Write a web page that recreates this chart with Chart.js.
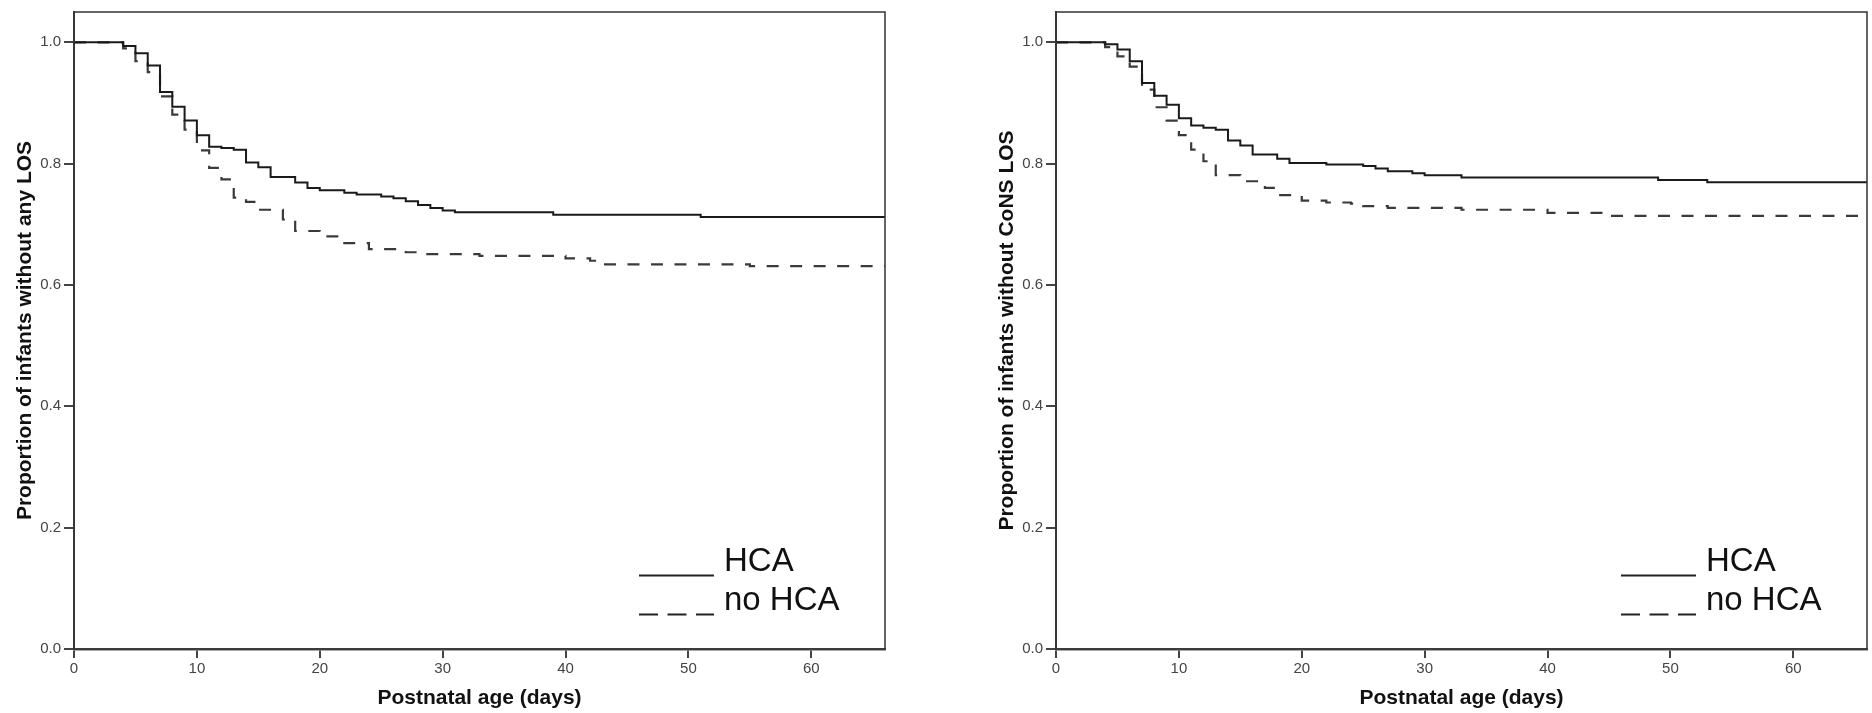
<!DOCTYPE html>
<html lang="en">
  <head>
    <meta charset="UTF-8" />
    <title>Time to late-onset sepsis by HCA</title>
    <script src="https://cdn.jsdelivr.net/npm/chart.js@4.4.1/dist/chart.umd.min.js"></script>
    <style>
      html, body { margin: 0; padding: 0; background: #fff; }
      .panel { position: absolute; top: 0; }
      #leftPanel { left: 0; }
      #rightPanel { left: 982px; }
    </style>
  </head>
  <body>
    <canvas id="leftPanel" class="panel" width="890" height="713"></canvas>
    <canvas id="rightPanel" class="panel" width="890" height="713"></canvas>

    <script>
      // Kaplan-Meier estimates read off the SPSS output (day, proportion)
      // any LOS, HCA
      var daysAnyHca = [0, 4, 5, 6, 7, 8, 9, 10, 11, 12, 13, 14, 15, 16, 18, 19, 20, 22, 23, 25, 26, 27, 28, 29, 30, 31, 39, 51, 66];
      var survAnyHca = [1.0, 0.994, 0.982, 0.962, 0.918, 0.894, 0.871, 0.847, 0.828, 0.826, 0.823, 0.802, 0.794, 0.778, 0.769, 0.760, 0.756, 0.752, 0.749, 0.746, 0.743, 0.738, 0.732, 0.727, 0.723, 0.720, 0.716, 0.712, 0.712];
      // any LOS, no HCA
      var daysAnyNoHca = [0, 4, 5, 6, 7, 8, 9, 10, 11, 12, 13, 14, 15, 17, 18, 20, 22, 24, 27, 28, 33, 40, 42, 43, 55, 66];
      var survAnyNoHca = [1.0, 0.990, 0.969, 0.951, 0.911, 0.881, 0.856, 0.822, 0.793, 0.774, 0.744, 0.737, 0.724, 0.708, 0.689, 0.680, 0.669, 0.659, 0.654, 0.651, 0.648, 0.644, 0.640, 0.634, 0.631, 0.631];
      // CoNS LOS, HCA
      var daysConsHca = [0, 4, 5, 6, 7, 8, 9, 10, 11, 12, 13, 14, 15, 16, 18, 19, 22, 25, 26, 27, 29, 30, 33, 49, 53, 66];
      var survConsHca = [1.0, 0.997, 0.988, 0.969, 0.933, 0.912, 0.897, 0.875, 0.863, 0.859, 0.856, 0.838, 0.830, 0.815, 0.808, 0.801, 0.7985, 0.796, 0.792, 0.7875, 0.784, 0.781, 0.777, 0.773, 0.7695, 0.7695];
      // CoNS LOS, no HCA
      var daysConsNoHca = [0, 4, 5, 6, 7, 8, 9, 10, 11, 12, 13, 15, 17, 18, 20, 22, 24, 25, 27, 33, 40, 45, 66];
      var survConsNoHca = [1.0, 0.992, 0.977, 0.960, 0.922, 0.893, 0.871, 0.847, 0.823, 0.804, 0.781, 0.771, 0.760, 0.748, 0.739, 0.736, 0.734, 0.730, 0.727, 0.724, 0.719, 0.714, 0.714];

      var groupLabels = ["HCA", "no HCA"];
      var xTicks = [0, 10, 20, 30, 40, 50, 60];
      var yTicks = [0.0, 0.2, 0.4, 0.6, 0.8, 1.0];

      Chart.defaults.font.family = "'Liberation Sans', Arial, sans-serif";
      Chart.defaults.color = "#444";

      function toPoints(days, surv) {
        return days.map(function (d, i) { return { x: d, y: surv[i] }; });
      }

      // frame around the plot area plus the little key in the lower right
      var frameAndKey = {
        id: "frameAndKey",
        afterDraw: function (chart) {
          var ctx = chart.ctx;
          var a = chart.chartArea;
          ctx.save();
          ctx.strokeStyle = "#333";
          ctx.lineWidth = 1.5;
          ctx.strokeRect(a.left, a.top, a.right - a.left, a.bottom - a.top);

          var dashes = [[], [19, 9.5]];
          ctx.font = "33px 'Liberation Sans', Arial, sans-serif";
          ctx.fillStyle = "#111";
          ctx.textBaseline = "alphabetic";
          chart.data.datasets.forEach(function (ds, i) {
            var y = a.top + 563.5 + i * 39;
            ctx.beginPath();
            ctx.setLineDash(dashes[i]);
            ctx.strokeStyle = "#222";
            ctx.lineWidth = 2;
            ctx.moveTo(a.left + 565, y);
            ctx.lineTo(a.left + 640, y);
            ctx.stroke();
            ctx.setLineDash([]);
            ctx.fillText(ds.label, a.left + 650, y - 4.5);
          });
          ctx.restore();
        }
      };

      function makeChart(id, yTitle, hca, noHca) {
        new Chart(document.getElementById(id), {
          type: "line",
          data: {
            datasets: [
              {
                label: groupLabels[0],
                data: hca,
                stepped: true,
                borderColor: "#1a1a1a",
                borderWidth: 2,
                pointRadius: 0,
                fill: false
              },
              {
                label: groupLabels[1],
                data: noHca,
                stepped: true,
                borderColor: "#3a3a3a",
                borderWidth: 2.2,
                borderDash: [12, 11.5],
                pointRadius: 0,
                fill: false
              }
            ]
          },
          options: {
            responsive: false,
            animation: false,
            layout: { padding: { top: 9, right: 5, bottom: 0, left: 0 } },
            plugins: {
              legend: { display: false },
              tooltip: { enabled: false }
            },
            scales: {
              x: {
                type: "linear",
                min: 0,
                max: 66,
                afterFit: function (s) { s.height = 64; },
                afterBuildTicks: function (s) {
                  s.ticks = xTicks.map(function (v) { return { value: v }; });
                },
                ticks: {
                  font: { size: 15 },
                  color: "#444",
                  padding: 2,
                  callback: function (v) { return String(v); }
                },
                grid: {
                  drawOnChartArea: false,
                  drawTicks: true,
                  tickLength: 9,
                  color: "#444",
                  lineWidth: 2
                },
                border: { display: true, color: "#555", width: 2.5 },
                title: {
                  display: true,
                  text: "Postnatal age (days)",
                  color: "#111",
                  font: { size: 21, weight: "bold" },
                  padding: { top: 0, bottom: 2 }
                }
              },
              y: {
                type: "linear",
                min: 0,
                max: 1.05,
                afterFit: function (s) { s.width = 74; },
                afterBuildTicks: function (s) {
                  s.ticks = yTicks.map(function (v) { return { value: v }; });
                },
                ticks: {
                  font: { size: 15 },
                  color: "#444",
                  padding: 3,
                  callback: function (v) { return v.toFixed(1); }
                },
                grid: {
                  drawOnChartArea: false,
                  drawTicks: true,
                  tickLength: 10,
                  color: "#444",
                  lineWidth: 2
                },
                border: { display: true, color: "#444", width: 2 },
                title: {
                  display: true,
                  text: yTitle,
                  color: "#111",
                  font: { size: 21, weight: "bold" },
                  padding: { top: 13, bottom: 0 }
                }
              }
            }
          },
          plugins: [frameAndKey]
        });
      }

      makeChart("leftPanel", "Proportion of infants without any LOS",
        toPoints(daysAnyHca, survAnyHca), toPoints(daysAnyNoHca, survAnyNoHca));
      makeChart("rightPanel", "Proportion of infants without CoNS LOS",
        toPoints(daysConsHca, survConsHca), toPoints(daysConsNoHca, survConsNoHca));
    </script>
  </body>
</html>
